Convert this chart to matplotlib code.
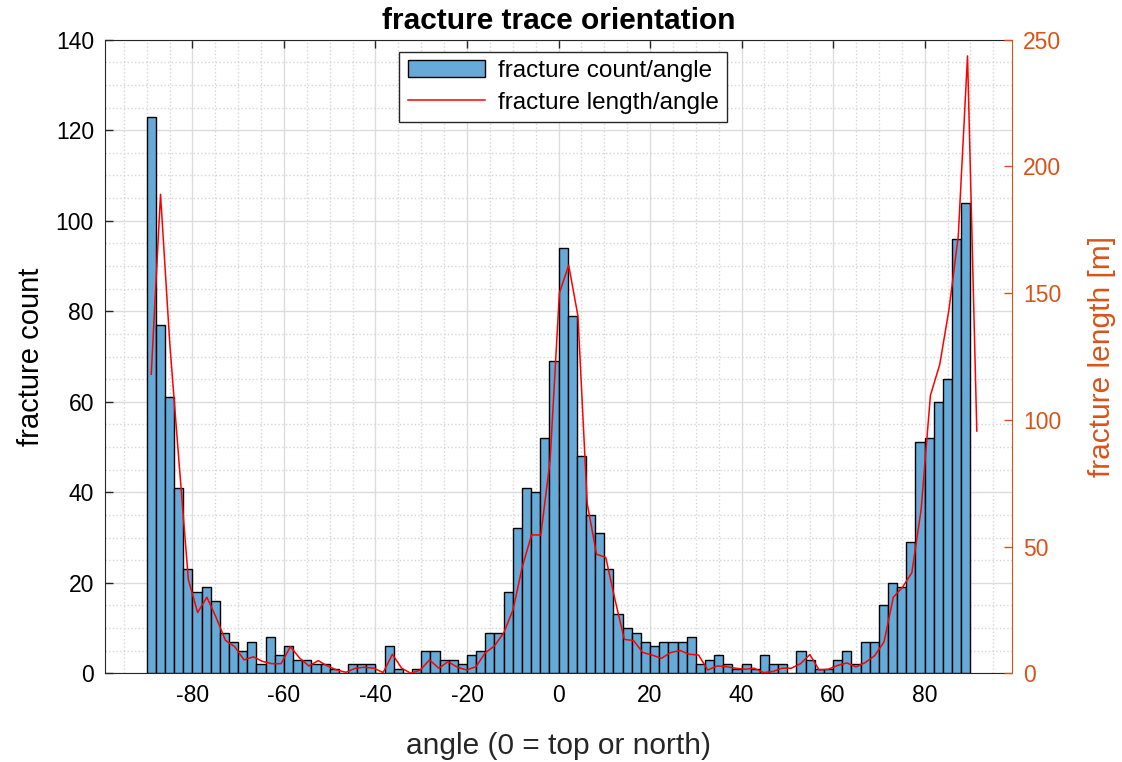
import numpy as np
import matplotlib.pyplot as plt
from matplotlib.ticker import MultipleLocator

plt.rcParams['font.family'] = ['Liberation Sans', 'DejaVu Sans']
plt.rcParams['axes.unicode_minus'] = False

# fracture count per 2-degree bin, from -90 to 90
counts = [123, 77, 61, 41, 23, 18, 19, 16, 9, 7,
          5, 7, 2, 8, 4, 6, 3, 3, 2, 2,
          1, 0, 2, 2, 2, 0, 6, 1, 0, 1,
          5, 5, 3, 3, 2, 4, 5, 9, 9, 18,
          32, 41, 40, 52, 69, 94, 79, 48, 35, 31,
          23, 13, 10, 9, 7, 6, 7, 7, 7, 8,
          2, 3, 4, 2, 1, 2, 1, 4, 2, 2,
          0, 5, 3, 1, 1, 3, 5, 2, 7, 7,
          15, 20, 19, 29, 51, 52, 60, 65, 96, 104]
bin_edges = np.arange(-90, 91, 2)

# total fracture length per angle [m]
length_angle = np.linspace(-89, 91.4, 90)
lengths = [118, 189, 130, 83, 37, 24, 30, 22, 13, 10.5,
           5.3, 6.5, 4.7, 3.8, 3.8, 10.5, 6, 2.9, 5, 2.9,
           1.3, 0.4, 2, 2.4, 2, 0.3, 7.5, 2, 0, 1.3,
           5.3, 2, 4.6, 2.4, 1.3, 2.6, 8, 10.8, 16, 25,
           42, 54.6, 54.6, 84, 150, 161, 141, 67, 47, 45.7,
           29, 13.4, 12.9, 8.2, 7.2, 5.9, 8.2, 9, 7.5, 7.2,
           1.3, 2.9, 2.6, 2, 1.6, 2, 0.3, 0.7, 2, 2,
           3.8, 7.4, 1.3, 1.6, 3.1, 4.1, 2.5, 4.3, 7, 12.4,
           30, 34, 39.7, 64.7, 109.7, 121.8, 143.5, 172.5, 243.6, 95.6]

axis_col = '#262626'
orange = '#D95319'
bar_col = '#66AAD7'

fig = plt.figure(figsize=(11.22, 7.62), dpi=100)
ax = fig.add_axes([0.0936, 0.1164, 0.8084, 0.8315])
ax2 = ax.twinx()

bars = ax.bar(bin_edges[:-1], counts, width=2, align='edge', color=bar_col,
              edgecolor='black', linewidth=1, zorder=2, label='fracture count/angle')
line, = ax2.plot(length_angle, lengths, color='red', linewidth=1.1,
                 label='fracture length/angle')

ax.set_xlim(-99.1, 99.1)
ax.set_ylim(0, 140)
ax2.set_ylim(0, 250)
ax.xaxis.set_major_locator(MultipleLocator(20))
ax.xaxis.set_minor_locator(MultipleLocator(5))
ax.yaxis.set_major_locator(MultipleLocator(20))
ax.yaxis.set_minor_locator(MultipleLocator(5))
ax2.yaxis.set_major_locator(MultipleLocator(50))

ax.set_axisbelow(True)
ax.grid(which='major', color='#dcdcdc', linewidth=1)
ax.grid(which='minor', color='#d6d6d6', linestyle=':', linewidth=1)

ax.tick_params(which='major', direction='in', length=6, width=1, top=True,
               right=False, labelsize=16.5, colors=axis_col, pad=8)
ax.tick_params(which='minor', length=0)
ax.tick_params(axis='y', labelcolor='black')
ax.tick_params(axis='x', labelcolor='black')
ax2.tick_params(which='major', direction='in', length=6, width=1,
                labelsize=16.5, colors=orange, pad=8)

for s in ['left', 'bottom', 'top']:
    ax.spines[s].set_color(axis_col)
ax.spines['right'].set_visible(False)
for s in ['left', 'bottom', 'top']:
    ax2.spines[s].set_visible(False)
ax2.spines['right'].set_color(orange)

ax.set_xlabel('angle (0 = top or north)', fontsize=21.5, color=axis_col, labelpad=18)
ax.set_ylabel('fracture count', fontsize=21, color='black', labelpad=8)
ax2.set_ylabel('fracture length [m]', fontsize=21.5, color=orange, labelpad=19)
ax.set_title('fracture trace orientation', fontsize=21.5, fontweight='bold', pad=8)

leg = ax2.legend([bars, line], ['fracture count/angle', 'fracture length/angle'],
                 loc='upper center', bbox_to_anchor=(0.505, 0.981), fontsize=17.5,
                 fancybox=False, framealpha=1, edgecolor=axis_col,
                 borderaxespad=0, handlelength=3.2, handletextpad=0.5,
                 borderpad=0.35, labelspacing=0.38)
leg.get_frame().set_linewidth(1)

fig.savefig('out.png', dpi=100)
